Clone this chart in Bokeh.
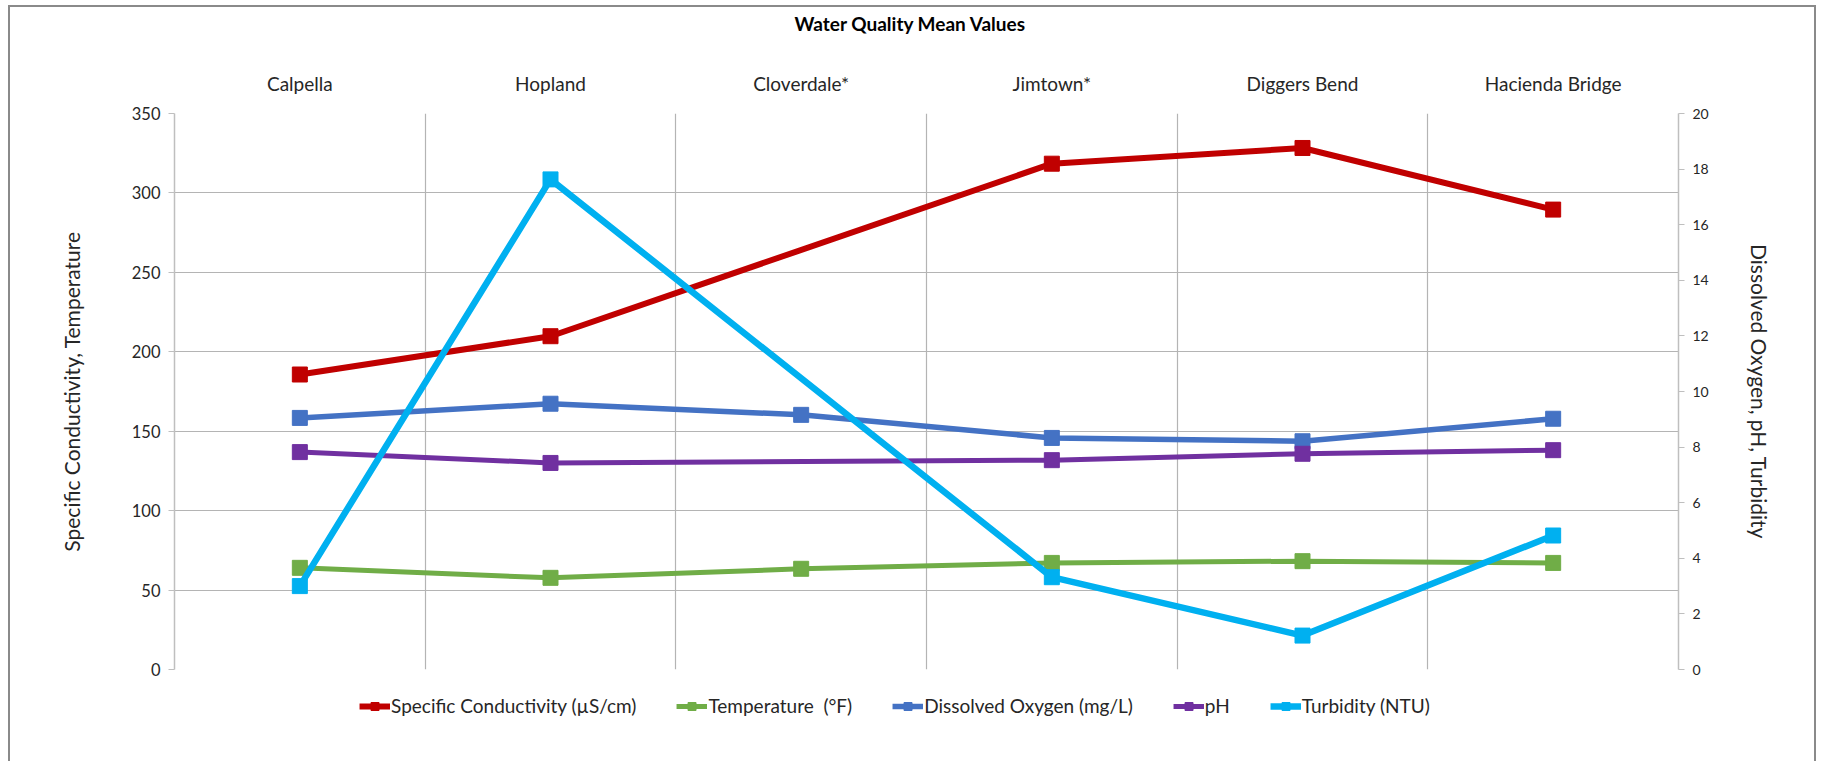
import math
from bokeh.plotting import figure
from bokeh.models import (Range1d, LinearAxis, FixedTicker, Legend, LegendItem, Title, Grid)
from bokeh.embed import file_html
from bokeh.resources import INLINE

NaN = float("nan")

categories = ["Calpella", "Hopland", "Cloverdale*", "Jimtown*", "Diggers Bend", "Hacienda Bridge"]
conductivity = [185.7, 209.8, NaN, 318.4, 328.3, 289.5]
temperature = [64.0, 57.7, 63.4, 67.1, 68.2, 67.1]
dissolved_oxygen = [9.05, 9.56, 9.16, 8.33, 8.21, 9.02]
ph = [7.82, 7.43, NaN, 7.53, 7.76, 7.89]
turbidity = [3.0, 17.63, NaN, 3.32, 1.22, 4.82]

left_ticks = [0, 50, 100, 150, 200, 250, 300, 350]
right_ticks = [0, 2, 4, 6, 8, 10, 12, 14, 16, 18, 20]

FONT = "Lato"
TXT = "#262626"
GRID = "#b4b4b4"

n = len(categories)
xpos = list(range(1, n + 1))

p = figure(frame_width=1504, frame_height=556, output_backend="svg", toolbar_location=None,
           x_range=Range1d(0.5, n + 0.5), y_range=Range1d(left_ticks[0], left_ticks[-1]),
           x_axis_location=None, y_axis_location=None,
           min_border_left=164, min_border_right=136, min_border_top=106, min_border_bottom=80)
p.extra_y_ranges = {"right": Range1d(right_ticks[0], right_ticks[-1])}
p.outline_line_color = None
p.styles = {"border-top": "2px solid #8a8a8a", "border-left": "2px solid #8a8a8a",
            "border-right": "2px solid #8a8a8a", "margin-left": "8px", "margin-top": "5px"}

p.title = Title(text="Water Quality Mean Values", align="left", text_font=FONT,
                text_font_size="19px", text_font_style="bold", text_color="#000000",
                offset=620, standoff=0)

# top category axis
xa = LinearAxis(ticker=FixedTicker(ticks=xpos),
                major_label_overrides={x: c for x, c in zip(xpos, categories)})
xa.axis_line_color = None
xa.major_tick_line_color = None
xa.major_tick_out = 0
xa.major_tick_in = 0
xa.minor_tick_line_color = None
xa.major_label_standoff = 19
xa.major_label_text_font = FONT
xa.major_label_text_font_size = "19px"
xa.major_label_text_color = TXT
xa.axis_label = " "
xa.axis_label_text_font_size = "12px"
xa.axis_label_standoff = 17
p.add_layout(xa, "above")

# left axis
ya = LinearAxis(ticker=FixedTicker(ticks=left_ticks), axis_label="Specific Conductivity, Temperature")
ya.axis_line_color = "#bfbfbf"
ya.axis_line_width = 1.5
ya.major_tick_line_color = "#bfbfbf"
ya.major_tick_out = 6
ya.major_tick_in = 0
ya.minor_tick_line_color = None
ya.major_label_standoff = 8
ya.major_label_text_font = FONT
ya.major_label_text_font_size = "16.5px"
ya.major_label_text_color = TXT
ya.axis_label_standoff = 45
ya.axis_label_text_font = FONT
ya.axis_label_text_font_size = "21px"
ya.axis_label_text_font_style = "normal"
ya.axis_label_text_color = TXT
p.add_layout(ya, "left")

# right axis
ra = LinearAxis(y_range_name="right", ticker=FixedTicker(ticks=right_ticks),
                axis_label="Dissolved Oxygen, pH, Turbidity")
ra.axis_line_color = "#bfbfbf"
ra.axis_line_width = 1.5
ra.major_tick_line_color = "#bfbfbf"
ra.major_tick_out = 6
ra.major_tick_in = 0
ra.minor_tick_line_color = None
ra.major_label_standoff = 8
ra.major_label_text_font = FONT
ra.major_label_text_font_size = "14px"
ra.major_label_text_color = TXT
ra.axis_label_standoff = 35
ra.axis_label_text_font = FONT
ra.axis_label_text_font_size = "21px"
ra.axis_label_text_font_style = "normal"
ra.axis_label_text_color = TXT
p.add_layout(ra, "right")

# grids
p.xgrid.visible = False
p.ygrid.visible = False
hg = Grid(dimension=1, ticker=FixedTicker(ticks=left_ticks), grid_line_color=GRID, grid_line_width=1.2)
vg = Grid(dimension=0, ticker=FixedTicker(ticks=[x + 0.5 for x in xpos[:-1]]),
          grid_line_color=GRID, grid_line_width=1.2)
p.add_layout(hg)
p.add_layout(vg)

series = [
    ("Specific Conductivity (µS/cm)", conductivity, "#C00000", None, 6),
    ("Temperature  (°F)", temperature, "#70AD47", None, 5),
    ("Dissolved Oxygen (mg/L)", dissolved_oxygen, "#4472C4", "right", 5.5),
    ("pH", ph, "#7030A0", "right", 5),
    ("Turbidity (NTU)", turbidity, "#00B0F0", "right", 6.5),
]

items = []
for i, (label, vals, color, rng, lw) in enumerate(series):
    xs = [x for x, v in zip(xpos, vals) if not math.isnan(v)]
    ys = [v for v in vals if not math.isnan(v)]
    kw = {"y_range_name": rng} if rng else {}
    ln = p.line(xs, ys, line_color=color, line_width=lw, **kw)
    sc = p.scatter(xs, ys, marker="square", size=15, fill_color=color, line_color=color, **kw)
    # trailing no-break spaces on the last label shift the centred legend left
    shown = label + ("\u00a0" * 13 if i == len(series) - 1 else "")
    items.append(LegendItem(label=shown, renderers=[ln, sc]))

legend = Legend(items=items, orientation="horizontal", location="top_center",
                label_text_font=FONT, label_text_font_size="19px", label_text_color=TXT,
                glyph_width=31, glyph_height=20, label_standoff=1, spacing=40,
                padding=8, margin=25, border_line_color=None, background_fill_alpha=0)
p.add_layout(legend, "below")

open("out.html", "w").write(file_html(p, INLINE))
